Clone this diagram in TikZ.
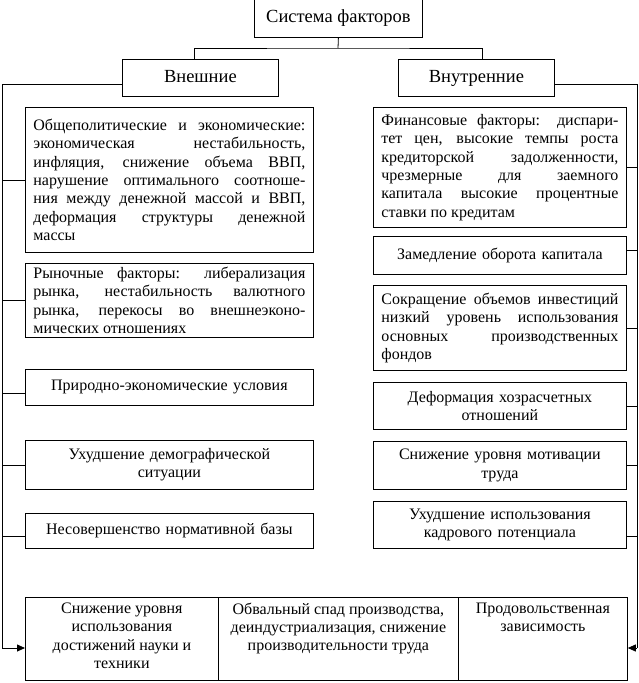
\documentclass[tikz,border=0pt]{standalone}
\usepackage{fontspec}
\setmainfont{Liberation Serif}
\usetikzlibrary{arrows.meta, positioning}
\newcommand{\celltext}[2]{\parbox[t][72pt][t]{#1}{\centering #2}}
\hbadness=10000

\begin{document}
\begin{tikzpicture}[
    x=1pt, y=-1pt,
    head/.style={draw, line width=0.8pt, anchor=north west, minimum width=156pt, minimum height=37pt, inner sep=0pt, text height=12.5pt, text depth=3.5pt, font=\fontsize{18.5}{21}\selectfont},
    factor/.style={draw, line width=0.8pt, anchor=north west, inner xsep=8pt, inner ysep=0pt, align=center, font=\fontsize{16}{18.3}\selectfont},
    lfactor/.style={factor, minimum width=288pt, text width=272pt},
    rfactor/.style={factor, minimum width=253pt, text width=237pt},
    cell/.style={draw, line width=0.8pt, anchor=north west, minimum height=83pt, inner sep=0pt, font=\fontsize{16}{18.3}\selectfont},
    link/.style={line width=0.8pt},
    feed/.style={line width=0.8pt, -{Triangle[length=8pt, width=7pt]}}
]
    \useasboundingbox (0,0) rectangle (639,683);

    % Heads
    \node[head, minimum width=168pt, minimum height=38pt] (sys) at (254,-1) {Система факторов};
    \node[head] (ext) at (122,59) {Внешние};
    \node[head] (int) at (398,59) {Внутренние};

    % External factors
    \node[lfactor, align=justify, minimum height=145pt] (l1) at (25,107) {Общеполитические и экономические:\linebreak экономическая нестабильность,\linebreak инфляция, снижение объема ВВП,\linebreak нарушение оптимального соотноше-\linebreak ния между денежной массой и ВВП,\linebreak деформация структуры денежной\linebreak массы};
    \node[lfactor, align=justify, minimum height=74pt] (l2) at (25,263) {Рыночные факторы: либерализация\linebreak рынка, нестабильность валютного\linebreak рынка, перекосы во внешнеэконо-\linebreak мических отношениях};
    \node[lfactor, minimum height=36pt] (l3) at (25,369) {Природно-экономические условия};
    \node[lfactor, minimum height=49pt] (l4) at (25,440) {Ухудшение демографической\\ситуации};
    \node[lfactor, minimum height=35pt] (l5) at (25,513) {Несовершенство нормативной базы};

    % Internal factors
    \node[rfactor, align=justify, minimum height=120pt] (r1) at (373,107) {Финансовые факторы: диспари-\linebreak тет цен, высокие темпы роста\linebreak кредиторской задолженности,\linebreak чрезмерные для заемного\linebreak капитала высокие процентные\linebreak ставки по кредитам};
    \node[rfactor, minimum height=38pt] (r2) at (373,236) {Замедление оборота капитала};
    \node[rfactor, align=justify, minimum height=85pt] (r3) at (373,285) {Сокращение объемов инвестиций\linebreak низкий уровень использования\linebreak основных производственных\linebreak фондов};
    \node[rfactor, minimum height=47pt] (r4) at (373,382) {Деформация хозрасчетных\\отношений};
    \node[rfactor, minimum height=48pt] (r5) at (373,441) {Снижение уровня мотивации\\труда};
    \node[rfactor, minimum height=47pt] (r6) at (373,501) {Ухудшение использования\\кадрового потенциала};

    % Consequences
    \node[cell, minimum width=193pt] (b1) at (25,597) {\celltext{185pt}{Снижение уровня\\использования\\достижений науки и\\техники}};
    \node[cell, minimum width=240pt] (b2) at (218,597) {\celltext{236pt}{Обвальный спад производства,\\деиндустриализация, снижение\\производительности труда}};
    \node[cell, minimum width=169pt] (b3) at (458,597) {\celltext{165pt}{Продовольственная\\зависимость}};

    % Bus points
    \coordinate (fork) at (338,48);
    \coordinate (lt) at (2,84);
    \coordinate (lb) at (2,648);
    \coordinate (rt) at (637,84);
    \coordinate (rb) at (637,648);

    % Tree
    \draw[link] (sys.south) -- (fork);
    \draw[link] ([xshift=-6pt]ext.north) |- (fork) -| ([xshift=6pt]int.north);

    % Left bus
    \draw[link] (ext.west |- lt) -- (lt) -- (lb);
    \draw[link] (lt |- l1.west) -- (l1.west);
    \draw[link] (lt |- l2.west) -- (l2.west);
    \draw[link] ([yshift=-6pt]lt |- l3.west) -- ([yshift=-6pt]l3.west);
    \draw[link] (lt |- l4.west) -- (l4.west);
    \draw[link] ([yshift=-5pt]lt |- l5.west) -- ([yshift=-5pt]l5.west);
    \draw[feed] (lb) -- (lb -| b1.west);

    % Right bus
    \draw[link] (int.east |- rt) -- (rt) -- (rb);
    \draw[link] (r1.east) -- (rt |- r1.east);
    \draw[link] ([yshift=5pt]r2.east) -- ([yshift=5pt]rt |- r2.east);
    \draw[link] (r3.east) -- (rt |- r3.east);
    \draw[link] (r4.east) -- (rt |- r4.east);
    \draw[link] (r5.east) -- (rt |- r5.east);
    \draw[link] ([yshift=-11pt]r6.east) -- ([yshift=-11pt]rt |- r6.east);
    \draw[feed] (rb) -- (rb -| b3.east);
\end{tikzpicture}
\end{document}
